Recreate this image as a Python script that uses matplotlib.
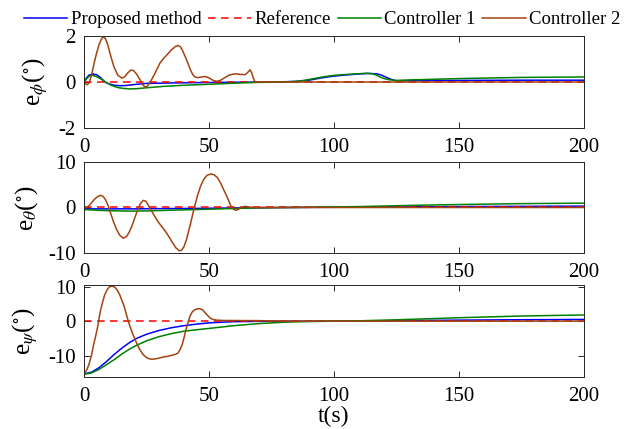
import matplotlib
matplotlib.use('Agg')
import matplotlib.pyplot as plt

plt.rcParams['font.family'] = ['Liberation Serif', 'DejaVu Serif']
plt.rcParams['mathtext.fontset'] = 'stix'
plt.rcParams['axes.unicode_minus'] = False

# ---- data ----
# panel 1: e_phi
t1_prop = [0, 1, 2, 3.5, 5, 6.5, 8.4, 10, 12, 14.4, 17, 20, 25, 35, 50, 60, 75, 80, 85, 90, 95, 98, 102, 105, 110, 113, 117, 119, 121, 123, 125, 130, 150, 175, 200]
phi_prop = [0, 0.18, 0.3, 0.35, 0.32, 0.2, 0.0, -0.08, -0.14, -0.16, -0.15, -0.11, -0.06, -0.04, -0.02, -0.01, 0, 0.01, 0.03, 0.08, 0.18, 0.23, 0.28, 0.31, 0.35, 0.37, 0.36, 0.3, 0.2, 0.11, 0.05, 0.06, 0.07, 0.08, 0.08]
t1_c1 = [0, 1, 2, 3.1, 4.5, 6, 7.5, 9, 10.5, 12, 14, 16, 18.4, 21, 25, 31.7, 40, 51.7, 60, 68, 78, 84, 88, 92, 96, 100, 105, 110, 113, 115, 116.5, 118.4, 120, 122, 125, 130, 140, 150, 175, 200]
phi_c1 = [0, 0.14, 0.25, 0.29, 0.26, 0.18, 0.08, -0.03, -0.12, -0.19, -0.25, -0.28, -0.3, -0.29, -0.25, -0.19, -0.14, -0.09, -0.05, -0.02, 0, 0.02, 0.07, 0.15, 0.23, 0.29, 0.33, 0.36, 0.38, 0.37, 0.32, 0.22, 0.15, 0.1, 0.07, 0.09, 0.12, 0.15, 0.2, 0.22]
t1_c2 = [0, 1.1, 2, 3, 4, 5, 6, 7, 7.7, 8.5, 9.5, 10.5, 12, 13.5, 15.1, 16.2, 17.5, 18.7, 19.8, 21, 22.5, 23.5, 24.4, 25.3, 26.5, 28, 30.4, 32, 33.5, 35, 36.5, 37.5, 38.5, 39.5, 41, 42.5, 43.5, 44.4, 45.5, 46.5, 48.4, 50, 51.5, 53, 54.5, 56, 58, 60.4, 62.5, 64.4, 65.5, 66.4, 67, 67.7, 68.4, 80, 200]
phi_c2 = [0, -0.12, -0.05, 0.3, 0.8, 1.25, 1.62, 1.88, 1.96, 1.9, 1.62, 1.2, 0.65, 0.3, 0.17, 0.22, 0.4, 0.52, 0.5, 0.35, 0.08, -0.12, -0.22, -0.18, 0.0, 0.3, 0.83, 1.05, 1.22, 1.4, 1.54, 1.59, 1.54, 1.35, 0.97, 0.55, 0.32, 0.22, 0.19, 0.21, 0.24, 0.18, 0.08, 0.03, 0.07, 0.17, 0.3, 0.36, 0.33, 0.32, 0.42, 0.53, 0.42, 0.18, 0.0, 0.0, 0.0]

# panel 2: e_theta
t2_prop = [0, 10, 20, 30, 45, 60, 80, 100, 125, 150, 175, 200]
th_prop = [-0.3, -0.3, -0.3, -0.25, -0.2, -0.1, 0, 0.05, 0.12, 0.2, 0.25, 0.3]
t2_c1 = [0, 5, 10, 18, 25, 35, 45, 55, 65, 75, 90, 110, 130, 150, 175, 200]
th_c1 = [-0.45, -0.6, -0.7, -0.8, -0.75, -0.6, -0.45, -0.3, -0.15, -0.05, 0.05, 0.2, 0.45, 0.65, 0.85, 0.95]
t2_c2 = [0, 1, 2, 3, 4, 5, 6, 6.7, 7.5, 8.5, 9.5, 10.5, 11.7, 13, 14.3, 15.7, 17, 18, 19.2, 20.5, 21.5, 22.5, 23.7, 24.7, 25.5, 26.4, 27.5, 29, 30.5, 31.7, 33, 34.5, 35.7, 36.8, 38.1, 39, 40, 41, 42.5, 44.1, 45.5, 46.7, 48, 49.3, 50.8, 52, 53.3, 54.5, 55.7, 57, 58, 59, 60, 60.8, 61.8, 62.8, 64.4, 66, 68, 200]
th_c2 = [0, 0, 0.4, 1.0, 1.7, 2.2, 2.55, 2.65, 2.5, 1.8, 0.6, -1.0, -3.0, -4.8, -6.1, -6.76, -6.4, -5.5, -4.0, -2.0, -0.4, 0.8, 1.56, 1.4, 0.7, -0.2, -1.2, -2.6, -3.8, -4.6, -5.6, -6.9, -8.0, -8.9, -9.5, -9.4, -8.6, -7.0, -3.8, 0, 2.8, 4.8, 6.3, 7.1, 7.37, 7.2, 6.6, 5.5, 4.1, 2.6, 1.3, 0, -0.45, -0.6, -0.4, 0.0, 0.26, 0.1, 0.0, 0.0]

# panel 3: e_psi
t3_prop = [0, 3, 6, 9, 12, 15, 18, 21, 25, 30, 35, 40, 45, 50, 55, 60, 70, 80, 100, 125, 150, 175, 200]
psi_prop = [-15.3, -14.8, -13.5, -11.7, -9.7, -7.9, -6.3, -5.0, -3.8, -2.7, -1.9, -1.3, -0.85, -0.5, -0.3, -0.15, -0.05, 0, 0, 0.15, 0.3, 0.42, 0.5]
t3_c1 = [0, 3, 6, 9, 12, 15, 18, 21, 25, 30, 35, 40, 45, 50, 55, 60, 70, 80, 90, 100, 110, 125, 150, 175, 200]
psi_c1 = [-15.4, -15.0, -14.0, -12.6, -11.2, -9.6, -8.2, -7.0, -5.7, -4.5, -3.6, -2.9, -2.5, -2.1, -1.7, -1.3, -0.7, -0.3, -0.1, 0, 0.1, 0.4, 1.0, 1.5, 1.8]
t3_c2 = [0, 1, 2, 3, 3.7, 4.5, 5.5, 6.4, 7.3, 8.2, 9.2, 10.2, 11.3, 12.3, 13.3, 14.2, 15, 16, 17, 17.7, 19, 20, 21, 22.3, 23.5, 25, 26.4, 28, 29.5, 31.7, 33.5, 35, 36.3, 37.5, 38.4, 39.2, 40, 40.8, 41.6, 42.4, 43.3, 44.3, 45.3, 46.4, 47.4, 48.4, 49.5, 50.5, 51.5, 53, 54.5, 56, 70, 80, 200]
psi_c2 = [-15.2, -14.3, -12.5, -9.8, -7.3, -4.8, -1.5, 2.4, 5.2, 7.5, 9.1, 10.0, 10.2, 9.9, 9.0, 7.8, 6.3, 4.4, 1.8, 0, -2.8, -4.6, -6.3, -8.2, -9.6, -10.6, -11.0, -11.0, -10.8, -10.4, -10.2, -9.9, -9.7, -9.3, -8.3, -6.9, -4.8, -2.4, -0.4, 1.5, 2.7, 3.3, 3.6, 3.6, 3.3, 2.5, 1.6, 0.9, 0.5, 0.3, 0.25, 0.2, 0.15, 0.0, 0.0]

labels = ['Proposed method', 'Reference', 'Controller 1', 'Controller 2']
c_prop = '#0000FF'
c_ref = '#FF0000'
c_c1 = '#008000'
c_c2 = '#A3430F'

panels = [
    (t1_prop, phi_prop, t1_c1, phi_c1, t1_c2, phi_c2, (-2, 2), [-2, 0, 2], r'e$_{\phi}$($^{\circ}$)'),
    (t2_prop, th_prop, t2_c1, th_c1, t2_c2, th_c2, (-10, 10), [-10, 0, 10], r'e$_{\theta}$($^{\circ}$)'),
    (t3_prop, psi_prop, t3_c1, psi_c1, t3_c2, psi_c2, (-16.2, 10.5), [-10, 0, 10], r'e$_{\psi}$($^{\circ}$)'),
]

fig = plt.figure(figsize=(6.38, 4.29), dpi=100)
boxes = [[0.1317, 0.7016, 0.7837, 0.2144],
         [0.1317, 0.4103, 0.7837, 0.2121],
         [0.1317, 0.1212, 0.7837, 0.2145]]

for i, (tp, yp, tc1, yc1, tc2, yc2, ylim, yt, ylab) in enumerate(panels):
    ax = fig.add_axes(boxes[i])
    ax.plot(tp, yp, color=c_prop, lw=1.1, label=labels[0])
    ax.plot([0, 200], [0, 0], color=c_ref, lw=1.1, ls=(0, (5, 3.5)), label=labels[1])
    ax.plot(tc1, yc1, color=c_c1, lw=1.1, label=labels[2])
    ax.plot(tc2, yc2, color=c_c2, lw=1.1, label=labels[3])
    ax.set_xlim(0, 200)
    ax.set_ylim(*ylim)
    ax.set_xticks([0, 50, 100, 150, 200])
    ax.set_yticks(yt)
    ax.tick_params(direction='in', top=True, right=True, length=4, width=0.7,
                   labelsize=15, colors='#262626', labelcolor='black')
    ax.tick_params(axis='x', pad=7)
    ax.tick_params(axis='y', pad=6)
    for s in ax.spines.values():
        s.set_linewidth(0.7)
        s.set_color('#262626')
    ax.set_ylabel(ylab, fontsize=18, labelpad=6)
    if i == 0:
        fig.legend(loc='upper center', bbox_to_anchor=(0.505, 1.0), ncol=4, frameon=False,
                   fontsize=13.5, handlelength=2.3, handletextpad=0.2, columnspacing=0.35,
                   borderaxespad=0.2)
    if i == 2:
        ax.set_xlabel('t(s)', fontsize=17, labelpad=0)

fig.savefig('out.png', dpi=100)
